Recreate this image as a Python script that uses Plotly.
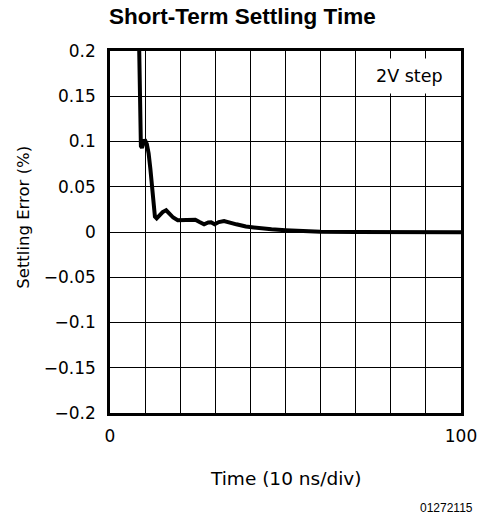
import plotly.graph_objects as go

# Data
time_div = [8.1, 8.3, 8.6, 8.8, 9.1, 9.5, 9.9, 10.5, 11.0, 11.5, 12.0, 12.4, 12.8, 13.3,
            14.0, 15.0, 16.0, 17.0, 18.0, 19.3, 21.0, 23.0, 24.3, 25.5, 26.8, 28.0, 28.8,
            29.8, 31.0, 32.5, 34.0, 36.0, 38.7, 42.0, 46.0, 50.0, 55.0, 60.0, 70.0, 80.0,
            90.0, 100.0]
settling_err = [0.25, 0.2, 0.12, 0.095, 0.093, 0.1, 0.102, 0.097, 0.087, 0.07, 0.05, 0.03,
                0.017, 0.015, 0.018, 0.022, 0.024, 0.02, 0.016, 0.013, 0.0135, 0.014, 0.0135,
                0.011, 0.0085, 0.0105, 0.0108, 0.0085, 0.011, 0.0122, 0.011, 0.0085, 0.006,
                0.0045, 0.003, 0.002, 0.001, 0.0002, 0.0, 0.0, 0.0, -0.0002]

x_tickvals = [0, 10, 20, 30, 40, 50, 60, 70, 80, 90, 100]
x_ticktext = ["0", "", "", "", "", "", "", "", "", "", "100"]
y_tickvals = [0.2, 0.15, 0.1, 0.05, 0, -0.05, -0.1, -0.15, -0.2]
y_ticktext = ["0.2", "0.15", "0.1", "0.05", "0", "\u22120.05", "\u22120.1", "\u22120.15", "\u22120.2"]

title_text = "<b>Short-Term Settling Time</b>"
x_title = "Time (10 ns/div)"
y_title = "Settling Error (%)"
note_text = "2V step"
code_text = "01272115"

tick_font = dict(family="DejaVu Sans", size=17, color="black")

W, H = 489, 516
L, R, T, B = 110, 17, 51, 103
pw, ph = W - L - R, H - T - B


def px_x(px):
    return (px - L) / pw


def px_y(py):
    return (H - B - py) / ph


fig = go.Figure()
fig.add_trace(go.Scatter(x=time_div, y=settling_err, mode="lines",
                         line=dict(color="black", width=4), showlegend=False,
                         hoverinfo="skip"))

fig.update_layout(
    width=W, height=H, autosize=False,
    margin=dict(l=L, r=R, t=T, b=B, pad=0),
    paper_bgcolor="white", plot_bgcolor="white",
    font=tick_font,
    xaxis=dict(range=[0, 100], tickvals=x_tickvals, ticktext=x_ticktext,
               showgrid=True, gridcolor="black", gridwidth=1.2,
               showline=True, linecolor="black", linewidth=2.5, mirror=True,
               ticks="", ticklabelstandoff=6, zeroline=False, tickfont=tick_font),
    yaxis=dict(range=[-0.2, 0.2], tickvals=y_tickvals, ticktext=y_ticktext,
               showgrid=True, gridcolor="black", gridwidth=1.2,
               showline=True, linecolor="black", linewidth=2.5, mirror=True,
               ticks="", ticklabelstandoff=8, zeroline=False, tickfont=tick_font),
    annotations=[
        dict(text=title_text, x=px_x(247), y=px_y(17), xref="paper", yref="paper",
             showarrow=False, xanchor="center", yanchor="middle",
             font=dict(family="Liberation Sans", size=22.5, color="black")),
        dict(text=x_title, x=px_x(291), y=px_y(478), xref="paper", yref="paper",
             showarrow=False, xanchor="center", yanchor="middle",
             font=dict(family="DejaVu Sans", size=18.5, color="black")),
        dict(text=y_title, x=px_x(20), y=px_y(217), xref="paper", yref="paper",
             showarrow=False, xanchor="center", yanchor="middle", textangle=-90,
             font=dict(family="DejaVu Sans", size=16.5, color="black")),
        dict(text=note_text, x=px_x(419), y=px_y(76), xref="paper", yref="paper",
             showarrow=False, xanchor="center", yanchor="middle",
             font=dict(family="DejaVu Sans", size=17.5, color="black"),
             bgcolor="white", borderpad=7),
        dict(text=code_text, x=px_x(486), y=px_y(508), xref="paper", yref="paper",
             showarrow=False, xanchor="right", yanchor="middle",
             font=dict(family="Liberation Sans", size=12, color="black")),
    ],
)

fig.write_html(
    "out.html",
    config={"responsive": False, "displayModeBar": False},
    post_script="document.body.style.margin='0';document.body.style.overflow='hidden';",
)
